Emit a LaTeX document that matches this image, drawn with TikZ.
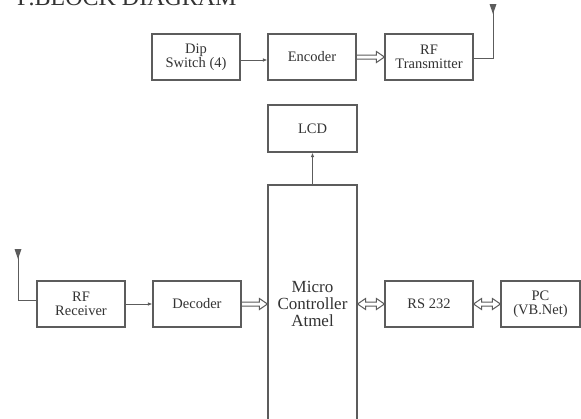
\documentclass[tikz,border=0pt]{standalone}
\usepackage{fontspec}
\setmainfont{Liberation Serif}
\usetikzlibrary{arrows.meta,calc}
\definecolor{ln}{HTML}{5C5C5C}
\definecolor{tx}{HTML}{333333}
\tikzset{
  conn/.style={draw=ln, line width=1pt, line join=miter},
  blockbox/.style={draw=ln, line width=1.1pt, minimum width=88pt, minimum height=46pt,
    inner sep=0pt, align=center, text=tx, font=\fontsize{14.5}{14.5}\selectfont},
  thin/.style={conn, -{Latex[length=4.5pt,width=3.5pt]}},
}
\newcommand\hollowone[2]{%
  \draw[conn] let \p1=(#1), \p2=(#2) in
    (\x1,\y1+2pt) -- (\x2-8pt,\y1+2pt) -- (\x2-8pt,\y1+5.5pt) -- (\x2,\y1)
    -- (\x2-8pt,\y1-5.5pt) -- (\x2-8pt,\y1-2pt) -- (\x1,\y1-2pt);}
\newcommand\hollowtwo[2]{%
  \draw[conn] let \p1=(#1), \p2=(#2) in
    (\x1,\y1) -- (\x1+8pt,\y1+5.5pt) -- (\x1+8pt,\y1+2pt) -- (\x2-8pt,\y1+2pt)
    -- (\x2-8pt,\y1+5.5pt) -- (\x2,\y1) -- (\x2-8pt,\y1-5.5pt) -- (\x2-8pt,\y1-2pt)
    -- (\x1+8pt,\y1-2pt) -- (\x1+8pt,\y1-5.5pt) -- cycle;}
\begin{document}
\begin{tikzpicture}[x=1pt,y=-1pt]
\useasboundingbox (0,0) rectangle (581,418);
\clip (0,0) rectangle (581,418);
\fill[white] (0,0) rectangle (581,418);

\node[anchor=base west, text=tx, font=\fontsize{24}{24}\selectfont, inner sep=0pt] (title) at (17,5) {F.BLOCK DIAGRAM};

% top row
\node[blockbox] (dip) at (196,57) {Dip\\Switch (4)};
\node[blockbox] (enc) at (312,57) {Encoder};
\node[blockbox] (rft) at (429,57) {RF\\Transmitter};

% LCD and micro
\node[blockbox, minimum width=89pt, minimum height=47pt] (lcd) at (312.5,128.5) {LCD};
\node[blockbox, minimum width=89pt, minimum height=238pt, font=\fontsize{17}{17}\selectfont] (mc) at (312.5,304) {Micro\\Controller\\Atmel};

% bottom row
\node[blockbox] (rfr) at (81,304) {RF\\Receiver};
\node[blockbox] (dec) at (197,304) {Decoder};
\node[blockbox] (rs) at (429,304) {RS 232};
\node[blockbox, minimum width=79pt] (pc) at (540.5,304) {PC\\(VB.Net)};

% connectors
\draw[thin] ([yshift=-3pt]dip.east) -- ([yshift=-3pt]enc.west);
\hollowone{enc.east}{rft.west}
\draw[thin] (mc.north) -- (lcd.south);
\draw[thin] (rfr.east) -- (dec.west);
\hollowone{dec.east}{dec.east -| mc.west}
\hollowtwo{rs.west -| mc.east}{rs.west}
\hollowtwo{rs.east}{pc.west}

% antennas
\coordinate (ant1) at (493,6);
\coordinate (ant2) at (18,251);
\draw[conn] ([yshift=-1pt]rft.east) -| (ant1);
\fill[ln] (489.5,4) -- (496.5,4) -- (493,14) -- cycle;
\draw[conn] ([yshift=4pt]rfr.west) -| (ant2);
\fill[ln] (14.5,249) -- (21.5,249) -- (18,259) -- cycle;
\end{tikzpicture}
\end{document}
